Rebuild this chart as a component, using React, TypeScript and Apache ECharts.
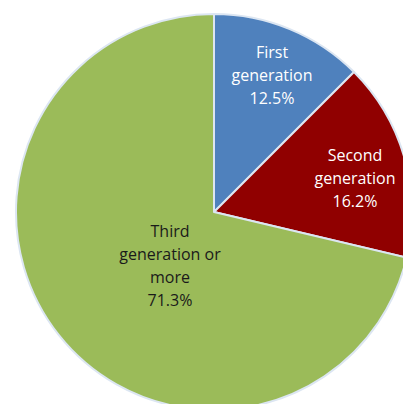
import React, { useEffect, useRef } from "react";
import * as echarts from "echarts";

const categories = ["First\ngeneration", "Second\ngeneration", "Third\ngeneration or\nmore"];
const values = [12.5, 16.2, 71.3];
const colors = ["#4F81BD", "#900000", "#9BBB59"];
const labelColors = ["#ffffff", "#ffffff", "#1a1a1a"];
// label anchor positions (layout only)
const labelPos = [
  [272, 75],
  [355, 178],
  [170, 265],
];

export default function App() {
  const ref = useRef<HTMLDivElement>(null);
  useEffect(() => {
    if (!ref.current) return;
    const chart = echarts.init(ref.current, undefined, { renderer: "svg" });
    chart.setOption({
      animation: false,
      series: [
        {
          type: "pie",
          center: [214, 212],
          radius: 198,
          startAngle: 90,
          clockwise: true,
          avoidLabelOverlap: false,
          itemStyle: { borderColor: "#DCE6F2", borderWidth: 2 },
          label: {
            show: true,
            position: "inside",
            fontFamily: "Open Sans",
            fontSize: 16,
            lineHeight: 23,
            align: "center",
            verticalAlign: "middle",
            formatter: (p: any) => `${p.name}\n${p.value.toFixed(1)}%`,
          },
          labelLayout: (p: any) => ({
            x: labelPos[p.dataIndex][0],
            y: labelPos[p.dataIndex][1],
            align: "center",
            verticalAlign: "middle",
          }),
          data: categories.map((c, i) => ({
            name: c,
            value: values[i],
            itemStyle: { color: colors[i] },
            label: { color: labelColors[i] },
          })),
        },
      ],
    });
    return () => chart.dispose();
  }, []);
  return (
    <div
      ref={ref}
      style={{ position: "fixed", left: 0, top: 0, width: 403, height: 404, background: "#fff" }}
    />
  );
}
